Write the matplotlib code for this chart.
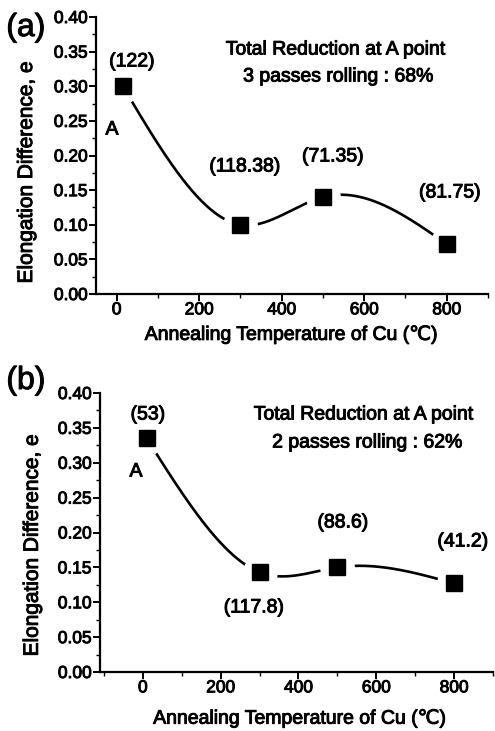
import numpy as np
import matplotlib
matplotlib.use("Agg")
import matplotlib.pyplot as plt
import matplotlib.patheffects as pe
from matplotlib.ticker import MultipleLocator

plt.rcParams['font.family'] = ['Liberation Sans', 'DejaVu Sans']

# ---- data ----
temp_a = [15, 300, 500, 800]
elong_a = [0.300, 0.100, 0.140, 0.072]
hv_a = ["(122)", "(118.38)", "(71.35)", "(81.75)"]

temp_b = [10, 300, 500, 800]
elong_b = [0.335, 0.143, 0.150, 0.127]
hv_b = ["(53)", "(117.8)", "(88.6)", "(41.2)"]

yticks = [0.00, 0.05, 0.10, 0.15, 0.20, 0.25, 0.30, 0.35, 0.40]
xticks = [0, 200, 400, 600, 800]

THICK = [pe.withStroke(linewidth=0.7, foreground='black')]


def natural_spline(x, y, n=300):
    x = np.asarray(x, float); y = np.asarray(y, float)
    k = len(x)
    h = np.diff(x)
    A = np.zeros((k, k)); r = np.zeros(k)
    A[0, 0] = A[-1, -1] = 1
    for i in range(1, k - 1):
        A[i, i - 1] = h[i - 1]
        A[i, i] = 2 * (h[i - 1] + h[i])
        A[i, i + 1] = h[i]
        r[i] = 6 * ((y[i + 1] - y[i]) / h[i] - (y[i] - y[i - 1]) / h[i - 1])
    M = np.linalg.solve(A, r)
    xs = np.linspace(x[0], x[-1], n)
    ys = np.empty_like(xs)
    for j, xv in enumerate(xs):
        i = min(np.searchsorted(x, xv, side='right') - 1, k - 2)
        t1 = x[i + 1] - xv; t0 = xv - x[i]
        ys[j] = (M[i] * t1 ** 3 + M[i + 1] * t0 ** 3) / (6 * h[i]) \
            + (y[i] / h[i] - M[i] * h[i] / 6) * t1 \
            + (y[i + 1] / h[i] - M[i + 1] * h[i] / 6) * t0
    return xs, ys


fig = plt.figure(figsize=(4.95, 7.31), dpi=100)

W, H = 495.0, 731.0


def make_axes(left, right, top, bottom):
    return fig.add_axes([left / W, 1 - bottom / H, (right - left) / W, (bottom - top) / H])


axa = make_axes(96, 488, 17, 294)
axb = make_axes(100, 493, 393, 672)


def style(ax, xlim):
    ax.set_xlim(*xlim)
    ax.set_ylim(0, 0.40)
    ax.set_xticks(xticks)
    ax.set_yticks(yticks)
    ax.set_yticklabels([f"{v:.2f}" for v in yticks])
    ax.xaxis.set_minor_locator(MultipleLocator(100))
    ax.yaxis.set_minor_locator(MultipleLocator(0.025))
    for s in ['top', 'right']:
        ax.spines[s].set_visible(False)
    for s in ['left', 'bottom']:
        ax.spines[s].set_linewidth(1.6)
    ax.tick_params(which='major', direction='out', length=5, width=1.4, labelsize=12.5, pad=1)
    ax.tick_params(which='minor', direction='out', length=3, width=1.0)
    ax.set_xlabel("Annealing Temperature of Cu (\u2103)", fontsize=14)
    ax.set_ylabel("Elongation Difference, e", fontsize=15)
    for t in ax.get_xticklabels() + ax.get_yticklabels():
        t.set_path_effects(THICK)
    ax.xaxis.label.set_path_effects(THICK)
    ax.yaxis.label.set_path_effects(THICK)


def draw(ax, x, y):
    xs, ys = natural_spline(x, y)
    ax.plot(xs, ys, color='black', lw=1.9, zorder=2, clip_on=False)
    ax.plot(x, y, linestyle='none', marker='o', markersize=24, color='white', zorder=3, clip_on=False)
    ax.plot(x, y, linestyle='none', marker='s', markersize=11.5, color='black', zorder=4, clip_on=False)


style(axa, (-50, 900))
style(axb, (-110, 900))
draw(axa, temp_a, elong_a)
draw(axb, temp_b, elong_b)

axa.xaxis.set_label_coords(0.50, -0.115)
axb.xaxis.set_label_coords(0.51, -0.135)
axa.yaxis.set_label_coords(-0.153, 0.44)
axb.yaxis.set_label_coords(-0.148, 0.455)


def ptext(px, py, s, size=14, **kw):
    fig.text(px / W, 1 - py / H, s, fontsize=size, ha='center', va='center',
             path_effects=THICK, **kw)


# panel (a) annotations
ptext(26, 28, "(a)", size=23)
ptext(132, 62, hv_a[0])
ptext(112, 130, "A")
ptext(245, 167, hv_a[1])
ptext(333, 157, hv_a[2])
ptext(450, 193, hv_a[3])
ptext(336, 50, "Total Reduction at A point")
ptext(339, 77, "3 passes rolling : 68%")

# panel (b) annotations
ptext(26, 381, "(b)", size=23)
ptext(148, 415, hv_b[0])
ptext(136, 472, "A")
ptext(254, 608, hv_b[1])
ptext(343, 523, hv_b[2])
ptext(463, 542, hv_b[3])
ptext(364, 415, "Total Reduction at A point")
ptext(368, 443, "2 passes rolling : 62%")

fig.savefig("out.png", dpi=100)
